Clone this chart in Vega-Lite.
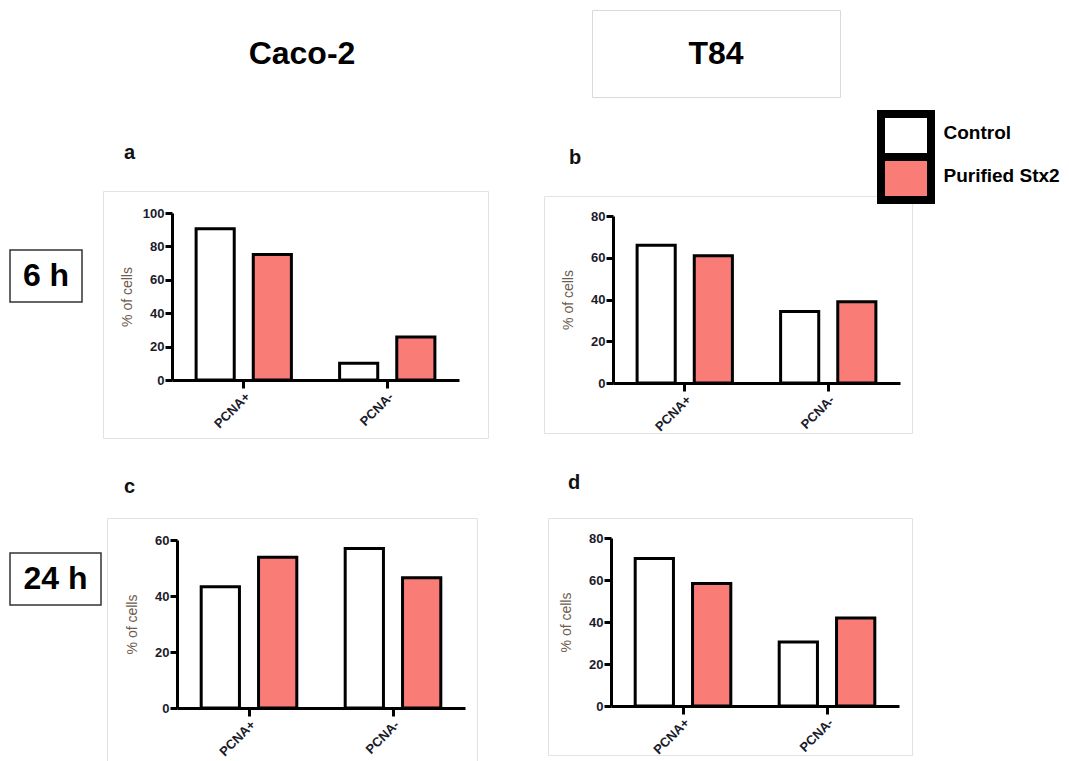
{
  "$schema": "https://vega.github.io/schema/vega-lite/v6.json",
  "padding": {"left": 9, "top": 4, "right": 0, "bottom": 0},
  "background": "white",
  "config": {
    "font": "Liberation Sans",
    "view": {"stroke": null},
    "axis": {
      "domainColor": "black", "domainWidth": 3,
      "tickColor": "black", "tickWidth": 3,
      "labelFont": "Liberation Sans", "labelFontWeight": "bold", "labelFontSize": 13, "labelColor": "#1b1b2b",
      "grid": false,
      "titleFont": "Liberation Sans", "titleFontWeight": "normal", "titleFontSize": 14, "titleColor": "#6e5c4e"
    },
    "axisX": {"tickSize": 8, "labelAngle": -45, "labelPadding": 2},
    "axisY": {"tickSize": 7, "labelPadding": 1},
    "title": {"font": "Liberation Sans", "fontSize": 20, "fontWeight": "bold", "color": "#111111", "anchor": "start", "frame": "group"}
  },
  "datasets": {
    "a": [
      {"marker": "PCNA+", "group": "Control", "pct": 90.6},
      {"marker": "PCNA+", "group": "Purified Stx2", "pct": 75.2},
      {"marker": "PCNA-", "group": "Control", "pct": 10},
      {"marker": "PCNA-", "group": "Purified Stx2", "pct": 25.7}
    ],
    "b": [
      {"marker": "PCNA+", "group": "Control", "pct": 66},
      {"marker": "PCNA+", "group": "Purified Stx2", "pct": 60.9},
      {"marker": "PCNA-", "group": "Control", "pct": 34.2},
      {"marker": "PCNA-", "group": "Purified Stx2", "pct": 38.9}
    ],
    "c": [
      {"marker": "PCNA+", "group": "Control", "pct": 43.3},
      {"marker": "PCNA+", "group": "Purified Stx2", "pct": 53.8},
      {"marker": "PCNA-", "group": "Control", "pct": 57},
      {"marker": "PCNA-", "group": "Purified Stx2", "pct": 46.5}
    ],
    "d": [
      {"marker": "PCNA+", "group": "Control", "pct": 70.2},
      {"marker": "PCNA+", "group": "Purified Stx2", "pct": 58.3},
      {"marker": "PCNA-", "group": "Control", "pct": 30.5},
      {"marker": "PCNA-", "group": "Purified Stx2", "pct": 41.9}
    ],
    "leg": [{"group": "Control"}, {"group": "Purified Stx2"}],
    "blank": [{"t": ""}],
    "caco": [{"t": "Caco-2"}],
    "t84": [{"t": "T84"}],
    "h6": [{"t": "6 h"}],
    "h24": [{"t": "24 h"}]
  },
  "bounds": "flush",
  "spacing": 0,
  "resolve": {"scale": {"x": "independent", "y": "independent", "xOffset": "independent"}},
  "hconcat": [
    {
      "bounds": "flush", "spacing": 0,
      "vconcat": [
        {"width": 1, "height": 181, "data": {"name": "blank"}, "mark": "text", "encoding": {"text": {"field": "t"}}},
        {"bounds": "flush", "spacing": 0, "hconcat": [
          {"width": 93, "height": 1, "data": {"name": "blank"}, "mark": "text", "encoding": {"text": {"field": "t"}}},
          {"width": 385, "height": 247, "view": {"stroke": "#e2e2e2", "strokeWidth": 1}, "data": {"name": "blank"}, "mark": "text", "encoding": {"text": {"field": "t"}}}
        ]},
        {"width": 1, "height": 5, "data": {"name": "blank"}, "mark": "text", "encoding": {"text": {"field": "t"}}},
        {"bounds": "flush", "spacing": 0, "hconcat": [
          {"width": 534, "height": 1, "data": {"name": "blank"}, "mark": "text", "encoding": {"text": {"field": "t"}}},
          {"width": 368, "height": 237, "view": {"stroke": "#e2e2e2", "strokeWidth": 1}, "data": {"name": "blank"}, "mark": "text", "encoding": {"text": {"field": "t"}}}
        ]},
        {"width": 1, "height": 54, "data": {"name": "blank"}, "mark": "text", "encoding": {"text": {"field": "t"}}},
        {"width": 72, "height": 52, "view": {"stroke": "#333333", "strokeWidth": 1.5}, "data": {"name": "h6"}, "mark": {"type": "text", "fontSize": 32, "fontWeight": "bold", "font": "Liberation Sans", "color": "black"}, "encoding": {"text": {"field": "t"}}},
        {"width": 1, "height": 216, "data": {"name": "blank"}, "mark": "text", "encoding": {"text": {"field": "t"}}},
        {"bounds": "flush", "spacing": 0, "hconcat": [
          {"width": 97, "height": 1, "data": {"name": "blank"}, "mark": "text", "encoding": {"text": {"field": "t"}}},
          {"width": 370, "height": 243, "view": {"stroke": "#e2e2e2", "strokeWidth": 1}, "data": {"name": "blank"}, "mark": "text", "encoding": {"text": {"field": "t"}}}
        ]},
        {"bounds": "flush", "spacing": 0, "hconcat": [
          {"width": 538, "height": 1, "data": {"name": "blank"}, "mark": "text", "encoding": {"text": {"field": "t"}}},
          {"width": 364, "height": 237, "view": {"stroke": "#e2e2e2", "strokeWidth": 1}, "data": {"name": "blank"}, "mark": "text", "encoding": {"text": {"field": "t"}}}
        ]},
        {"width": 1, "height": 35, "data": {"name": "blank"}, "mark": "text", "encoding": {"text": {"field": "t"}}},
        {"width": 91, "height": 52, "view": {"stroke": "#333333", "strokeWidth": 1.5}, "data": {"name": "h24"}, "mark": {"type": "text", "fontSize": 32, "fontWeight": "bold", "font": "Liberation Sans", "color": "black"}, "encoding": {"text": {"field": "t"}}}
      ]
    },
    {"width": 162, "height": 1, "data": {"name": "blank"}, "mark": "text", "encoding": {"text": {"field": "t"}}},
    {
      "bounds": "flush", "spacing": 0,
      "resolve": {"scale": {"x": "independent", "y": "independent", "xOffset": "independent"}},
      "vconcat": [
        {"width": 260, "height": 87, "data": {"name": "caco"}, "mark": {"type": "text", "fontSize": 32, "fontWeight": "bold", "font": "Liberation Sans", "color": "black"}, "encoding": {"text": {"field": "t"}}},
        {"width": 1, "height": 116, "data": {"name": "blank"}, "mark": "text", "encoding": {"text": {"field": "t"}}},
        {
          "width": 287, "height": 167,
          "data": {"name": "a"},
          "title": {"text": "a", "dx": -48, "offset": 44},
          "mark": {"type": "bar", "stroke": "black", "strokeWidth": 3},
          "encoding": {
            "x": {"field": "marker", "type": "nominal", "sort": ["PCNA+", "PCNA-"], "scale": {"paddingInner": 0.336, "paddingOuter": 0.168}, "axis": {"title": null}},
            "xOffset": {"field": "group", "type": "nominal", "sort": ["Control", "Purified Stx2"], "scale": {"paddingInner": 0.333, "paddingOuter": 0}},
            "y": {"field": "pct", "type": "quantitative", "scale": {"domain": [0, 100]}, "axis": {"values": [0, 20, 40, 60, 80, 100], "title": "% of cells", "titlePadding": 8}},
            "fill": {"field": "group", "type": "nominal", "scale": {"domain": ["Control", "Purified Stx2"], "range": ["#ffffff", "#f97c77"]}, "legend": null}
          }
        },
        {"width": 1, "height": 160, "data": {"name": "blank"}, "mark": "text", "encoding": {"text": {"field": "t"}}},
        {
          "bounds": "flush", "spacing": 0,
          "resolve": {"scale": {"x": "independent", "y": "independent", "xOffset": "independent"}},
          "hconcat": [
            {"width": 5, "height": 1, "data": {"name": "blank"}, "mark": "text", "encoding": {"text": {"field": "t"}}},
            {
              "width": 288, "height": 168,
              "data": {"name": "c"},
              "title": {"text": "c", "dx": -53, "offset": 37},
              "mark": {"type": "bar", "stroke": "black", "strokeWidth": 3},
              "encoding": {
                "x": {"field": "marker", "type": "nominal", "sort": ["PCNA+", "PCNA-"], "scale": {"paddingInner": 0.336, "paddingOuter": 0.168}, "axis": {"title": null}},
                "xOffset": {"field": "group", "type": "nominal", "sort": ["Control", "Purified Stx2"], "scale": {"paddingInner": 0.333, "paddingOuter": 0}},
                "y": {"field": "pct", "type": "quantitative", "scale": {"domain": [0, 60]}, "axis": {"values": [0, 20, 40, 60], "title": "% of cells", "titlePadding": 15}},
                "fill": {"field": "group", "type": "nominal", "scale": {"domain": ["Control", "Purified Stx2"], "range": ["#ffffff", "#f97c77"]}, "legend": null}
              }
            }
          ]
        }
      ]
    },
    {"width": 420, "height": 1, "data": {"name": "blank"}, "mark": "text", "encoding": {"text": {"field": "t"}}},
    {
      "bounds": "flush", "spacing": 0,
      "resolve": {"scale": {"x": "independent", "y": "independent", "xOffset": "independent"}},
      "vconcat": [
        {"width": 248, "height": 87, "view": {"stroke": "#d9d9d9", "strokeWidth": 1}, "data": {"name": "t84"}, "mark": {"type": "text", "fontSize": 32, "fontWeight": "bold", "font": "Liberation Sans", "color": "black"}, "encoding": {"text": {"field": "t"}}},
        {"width": 1, "height": 17, "data": {"name": "blank"}, "mark": "text", "encoding": {"text": {"field": "t"}}},
        {
          "bounds": "flush", "spacing": 0,
          "resolve": {"scale": {"y": "independent"}},
          "hconcat": [
            {"width": 289, "height": 1, "data": {"name": "blank"}, "mark": "text", "encoding": {"text": {"field": "t"}}},
            {
              "width": 50, "height": 86,
              "data": {"name": "leg"},
              "mark": {"type": "rect", "stroke": "black", "strokeWidth": 8},
              "encoding": {
                "y": {"field": "group", "type": "nominal", "sort": ["Control", "Purified Stx2"], "scale": {"paddingInner": 0, "paddingOuter": 0},
                  "axis": {"orient": "right", "title": null, "domain": false, "ticks": false, "labelFontSize": 19, "labelFontWeight": "bold", "labelColor": "black", "labelPadding": 12, "labelOffset": -3, "labelFont": "Liberation Sans", "labelLimit": 300}},
                "fill": {"field": "group", "type": "nominal", "scale": {"domain": ["Control", "Purified Stx2"], "range": ["#ffffff", "#f97c77"]}, "legend": null}
              }
            }
          ]
        },
        {"width": 1, "height": 102, "data": {"name": "blank"}, "mark": "text", "encoding": {"text": {"field": "t"}}},
        {
          "bounds": "flush", "spacing": 0,
          "resolve": {"scale": {"x": "independent", "y": "independent", "xOffset": "independent"}},
          "hconcat": [
            {"width": 21, "height": 1, "data": {"name": "blank"}, "mark": "text", "encoding": {"text": {"field": "t"}}},
            {
              "width": 287, "height": 167,
              "data": {"name": "b"},
              "title": {"text": "b", "dx": -44, "offset": 42},
              "mark": {"type": "bar", "stroke": "black", "strokeWidth": 3},
              "encoding": {
                "x": {"field": "marker", "type": "nominal", "sort": ["PCNA+", "PCNA-"], "scale": {"paddingInner": 0.336, "paddingOuter": 0.168}, "axis": {"title": null}},
                "xOffset": {"field": "group", "type": "nominal", "sort": ["Control", "Purified Stx2"], "scale": {"paddingInner": 0.333, "paddingOuter": 0}},
                "y": {"field": "pct", "type": "quantitative", "scale": {"domain": [0, 80]}, "axis": {"values": [0, 20, 40, 60, 80], "title": "% of cells", "titlePadding": 15}},
                "fill": {"field": "group", "type": "nominal", "scale": {"domain": ["Control", "Purified Stx2"], "range": ["#ffffff", "#f97c77"]}, "legend": null}
              }
            }
          ]
        },
        {"width": 1, "height": 322, "data": {"name": "blank"}, "mark": "text", "encoding": {"text": {"field": "t"}}},
        {
          "bounds": "flush", "spacing": 0,
          "resolve": {"scale": {"x": "independent", "y": "independent", "xOffset": "independent"}},
          "hconcat": [
            {"width": 19, "height": 1, "data": {"name": "blank"}, "mark": "text", "encoding": {"text": {"field": "t"}}},
            {
              "width": 288, "height": 168,
              "data": {"name": "d"},
              "title": {"text": "d", "dx": -43, "offset": 39},
              "mark": {"type": "bar", "stroke": "black", "strokeWidth": 3},
              "encoding": {
                "x": {"field": "marker", "type": "nominal", "sort": ["PCNA+", "PCNA-"], "scale": {"paddingInner": 0.336, "paddingOuter": 0.168}, "axis": {"title": null}},
                "xOffset": {"field": "group", "type": "nominal", "sort": ["Control", "Purified Stx2"], "scale": {"paddingInner": 0.333, "paddingOuter": 0}},
                "y": {"field": "pct", "type": "quantitative", "scale": {"domain": [0, 80]}, "axis": {"values": [0, 20, 40, 60, 80], "title": "% of cells", "titlePadding": 15}},
                "fill": {"field": "group", "type": "nominal", "scale": {"domain": ["Control", "Purified Stx2"], "range": ["#ffffff", "#f97c77"]}, "legend": null}
              }
            }
          ]
        }
      ]
    }
  ]
}
